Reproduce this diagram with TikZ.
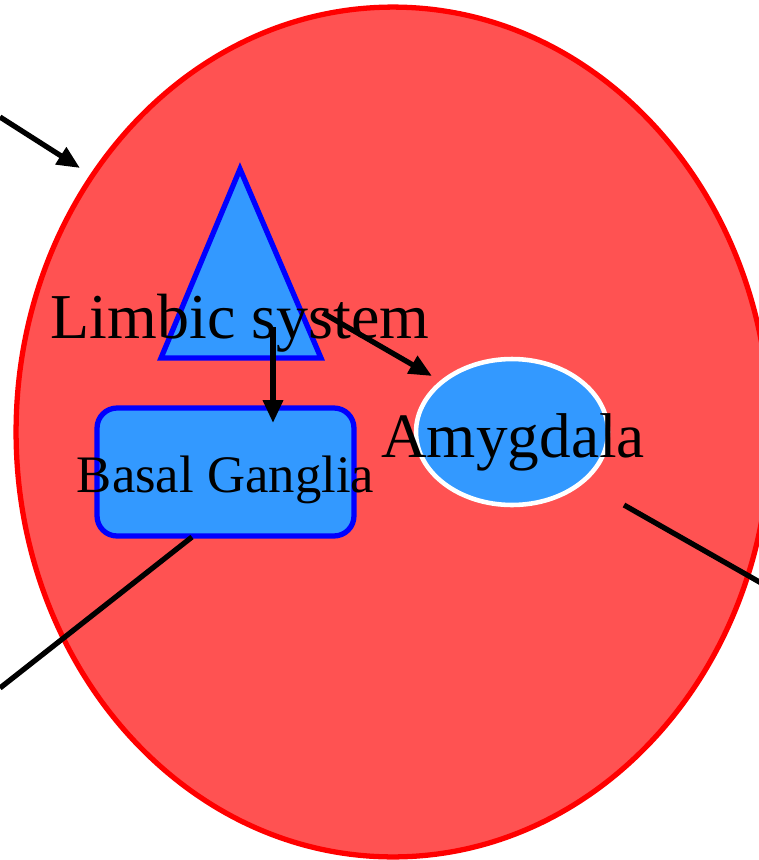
\documentclass[tikz,border=0pt]{standalone}
\usepackage{fontspec}
\setmainfont{Liberation Serif}
\usepackage{xcolor}
\usetikzlibrary{shapes,arrows.meta,positioning}
\definecolor{brainred}{RGB}{255, 82, 82}
\definecolor{partblue}{RGB}{51, 153, 255}

\begin{document}
\begin{tikzpicture}[
    x=0.02cm, y=-0.02cm,
    every node/.style={align=center},
    region/.style={ellipse, minimum width=15.08cm, minimum height=17cm, inner sep=0pt, draw=red, fill=brainred, line width=3pt},
    part/.style={draw=blue, fill=partblue, line width=3pt},
    arrow/.style={line width=3pt,->,>={Triangle[length=13pt,width=11pt]}},
    link/.style={line width=3pt}
]
\useasboundingbox (0,0) rectangle (759,860);

% Brain outline
\node[region] (brain) at (393,432) {};

% Parts
\draw[part, line join=miter] (161,358) -- (240,169) -- (321,358) -- cycle;
\node[part, rectangle, rounded corners=0.4cm, minimum width=5.14cm, minimum height=2.56cm] (basal) at (225.5,472) {};
\node[part, ellipse, draw=white, line width=2.6pt, minimum width=3.84cm, minimum height=2.92cm, inner sep=0pt] (amygdala) at (512,432) {};

% Labels
\node[anchor=base, font=\fontsize{36.4}{42}\selectfont] (limbic) at (240,338) {Limbic system};
\node[anchor=base, font=\fontsize{36}{42}\selectfont] (amyglabel) at (513,457) {Amygdala};
\node[anchor=base, font=\fontsize{30}{36}\selectfont] (basallabel) at (225.5,492) {Basal Ganglia};

% Connector ends
\coordinate (inA) at (0,117);
\coordinate (inB) at (80,168);
\coordinate (limbA) at (273,327);
\coordinate (limbB) at (323,313);
\coordinate (basalIn) at (273,423);
\coordinate (amygIn) at (432,376);
\coordinate (basalOut) at (192,537);
\coordinate (outA) at (0,688);
\coordinate (amygOut) at (624,505);
\coordinate (outB) at (770,588);

% Connections
\draw[arrow] (inA) -- (inB);
\draw[arrow] (limbA) -- (basalIn);
\draw[arrow] (limbB) -- (amygIn);
\draw[link] (basalOut) -- (outA);
\draw[link] (amygOut) -- (outB);

\end{tikzpicture}
\end{document}
